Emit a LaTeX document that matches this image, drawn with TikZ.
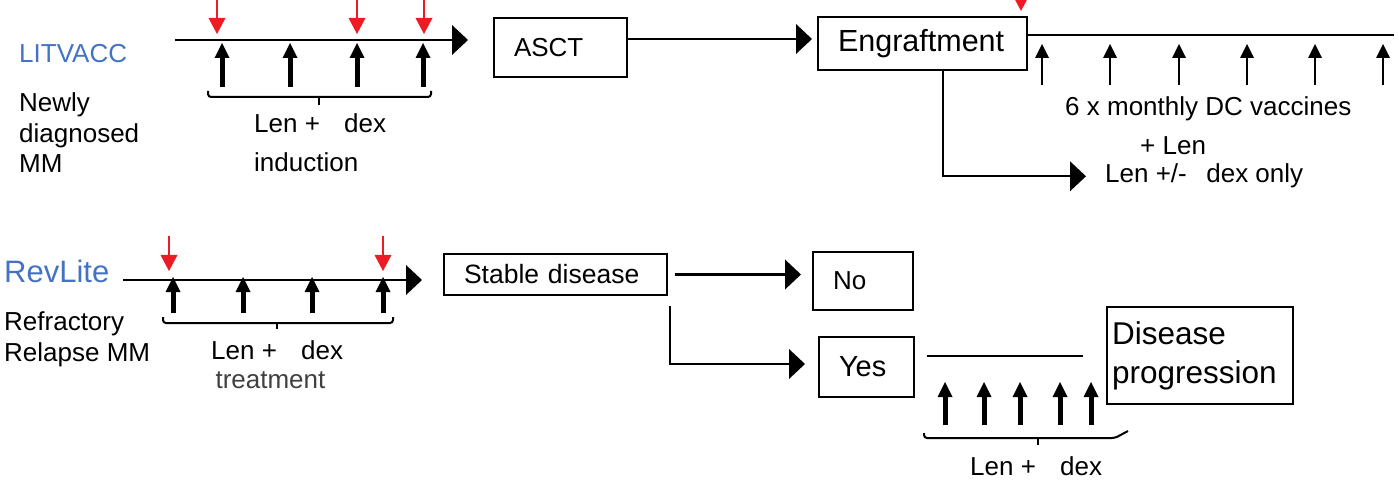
\documentclass[tikz,border=0pt]{standalone}
\usepackage{fontspec}
\setmainfont{Liberation Sans}
\usetikzlibrary{arrows.meta, positioning}
\definecolor{armblue}{RGB}{68,114,196}
\definecolor{markred}{RGB}{237,28,36}
\tikzset{
    txt/.style={font=\fontsize{26}{30.5}\selectfont, inner sep=0pt, anchor=base west, align=left},
    armname/.style={txt, text=armblue},
    box/.style={draw, line width=2pt, anchor=north west, align=left, inner xsep=20pt, inner ysep=0pt, font=\fontsize{26}{30.5}\selectfont},
    tline/.style={line width=2.2pt},
    bigarrow/.style={line width=2.2pt, -{Triangle[length=16pt, width=30pt, line width=0pt]}},
    doseup/.style={line width=5pt, -{Triangle[length=15pt, width=15pt, line width=0pt]}},
    vacup/.style={line width=2pt, -{Triangle[length=14pt, width=14pt, line width=0pt]}},
    redmark/.style={draw=markred, line width=1.5pt, -{Triangle[length=16pt, width=17pt, line width=0pt]}},
    bracket/.style={line width=2pt, rounded corners=3pt},
}
\begin{document}
\begin{tikzpicture}[x=1pt, y=-1pt]
\useasboundingbox (0,0) rectangle (1399,486);
\clip (0,0) rectangle (1399,486);
\def\gap{\hspace{0.93em}}

% LITVACC arm (multi-line nodes sit on their last baseline)
\node[armname] (litvacc) at (19,63) {LITVACC};
\node[txt] (newmm) at (19,173) {Newly\\diagnosed\\MM};
\coordinate (litStart) at (175,40);
\coordinate (litEnd) at (468,40);
\draw[bigarrow] (litStart) -- (litEnd);
\foreach \x in {217,357,424}
  \draw[redmark] (\x,0) -- (\x,34);
\foreach \x in {222,290,357,423}
  \draw[doseup] (\x,87) -- (\x,43);
\draw[bracket] (208,91) -- (208,97) -- (431,97) -- (431,91);
\draw[line width=2pt] (319,97) -- (319,105);
\node[txt, font=\fontsize{26}{39}\selectfont] (induct) at (254,172) {Len +\gap dex\\induction};

\node[box, minimum width=133pt, minimum height=59pt, text width=93pt] (asct) at (493,17) {ASCT};
\node[box, minimum width=209pt, minimum height=53pt, text width=169pt, font=\fontsize{30.5}{36}\selectfont] (eng) at (817,16) {Engraftment};
\draw[bigarrow] ([yshift=8.5pt]asct.east) -- ([xshift=-5pt,yshift=4.5pt]eng.west);

% vaccine phase
\draw[redmark] (1021,-10) -- (1021,11);
\coordinate (vacEnd) at (1394,35);
\draw[tline] (eng.east |- vacEnd) -- (vacEnd);
\foreach \x in {1042,1110,1179,1247,1315,1383}
  \draw[vacup] (\x,85) -- (\x,44);
\node[txt] (vaccines) at (1065,116) {6 x monthly DC vaccines};
\node[txt] (pluslen) at (1140,155) {+ Len};
\node[txt] (only) at (1105,183) {Len +/-\hspace{0.75em}dex only};
\draw[bigarrow, shorten >=19pt] ([xshift=20.5pt]eng.south) |- (only.west);

% RevLite arm
\node[armname, font=\fontsize{31}{36}\selectfont] (revlite) at (4,283) {RevLite};
\node[txt] (relmm) at (4,361) {Refractory\\Relapse MM};
\coordinate (revStart) at (123,280);
\coordinate (revEnd) at (422,280);
\draw[bigarrow] (revStart) -- (revEnd);
\foreach \x in {169,383}
  \draw[redmark] (\x,236) -- (\x,271);
\foreach \x in {173,243,312,383}
  \draw[doseup] (\x,313) -- (\x,277);
\draw[bracket] (163,317) -- (163,323) -- (393,323) -- (393,317);
\draw[line width=2pt] (277,323) -- (277,329);
\node[txt, font=\fontsize{26}{29}\selectfont] (treat) at (211,388) {Len +\gap dex\\\textcolor{black!75}{\,treatment}};

\node[box, minimum width=223pt, minimum height=41pt, text width=183pt, font=\fontsize{26.5}{31}\selectfont] (stable) at (443,253) {Stable disease};
\node[box, minimum width=100pt, minimum height=58pt, text width=60pt] (no) at (812,251) {No};
\node[box, minimum width=95pt, minimum height=60pt, text width=55pt, font=\fontsize{29}{34}\selectfont] (yes) at (818,336) {Yes};
\node[box, minimum width=186pt, minimum height=97pt, text width=176pt, inner xsep=5pt, font=\fontsize{31.5}{39}\selectfont] (progress) at (1106,306) {Disease\\progression};

\draw[bigarrow, shorten <=7pt, shorten >=11pt] (stable.east) -- (stable.east -| no.west);
\draw[bigarrow, shorten >=13pt] ([xshift=2pt,yshift=-10pt]stable.south east) |- ([yshift=3pt]yes.west);

% continued Len + dex
\coordinate (pdEnd) at (1083,356);
\draw[tline] (yes.east |- pdEnd) ++(12,0) -- (pdEnd);
\foreach \x in {945,984,1020,1060,1091}
  \draw[doseup] (\x,425) -- (\x,382);
\draw[bracket] (924,433) -- (924,438) -- (1115,438) -- (1128,431);
\draw[line width=2pt] (1038,438) -- (1038,445);
\node[txt] (contdex) at (970,475) {Len +\gap dex};
\end{tikzpicture}
\end{document}
